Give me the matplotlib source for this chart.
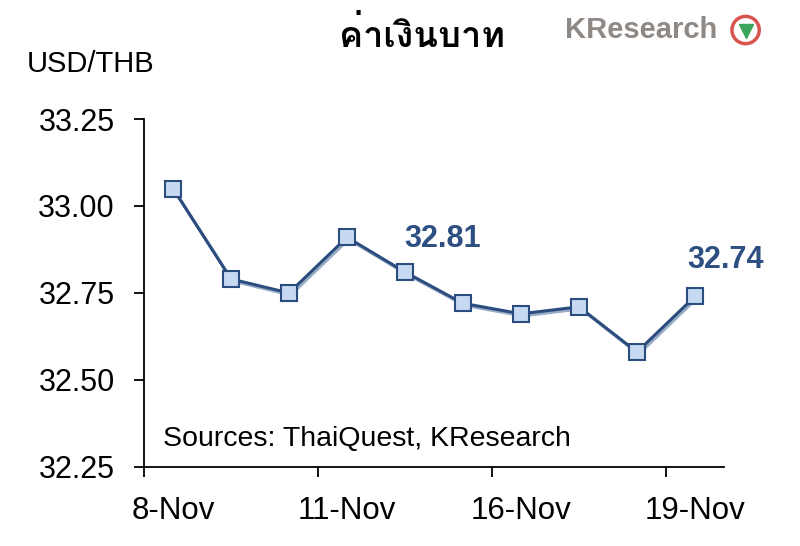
import matplotlib
matplotlib.use('Agg')
import matplotlib.pyplot as plt
import matplotlib.patheffects as pe
from matplotlib import font_manager
from matplotlib.ft2font import FT2Font
from matplotlib.patches import Circle

# --- data ---
dates = ['8-Nov', '9-Nov', '10-Nov', '11-Nov', '12-Nov',
         '15-Nov', '16-Nov', '17-Nov', '18-Nov', '19-Nov']
usd_thb = [33.05, 32.79, 32.75, 32.91, 32.81, 32.72, 32.69, 32.71, 32.58, 32.74]
label_idx = [0, 3, 6, 9]
callouts = [4, 9]
title = 'ค่าเงินบาท'
y_ticks = [32.25, 32.50, 32.75, 33.00, 33.25]


def find_thai_font():
    # look for any installed font that has Thai glyphs
    for f in font_manager.fontManager.ttflist:
        try:
            if 0x0E04 in FT2Font(f.fname).get_charmap():
                return f.name
        except Exception:
            pass
    return 'DejaVu Sans'


thai_font = find_thai_font()
plt.rcParams['font.family'] = ['Liberation Sans', 'DejaVu Sans']

navy = '#2B4C7E'
fig = plt.figure(figsize=(8, 5.46), dpi=100)
ax = fig.add_axes([0.18, 0.145, 0.725, 0.637])

x = list(range(len(dates)))
ax.plot(x, usd_thb, color=navy, lw=2.2, zorder=2,
        path_effects=[pe.SimpleLineShadow(offset=(1.2, -1.5), shadow_color='#8FA3C0', alpha=0.9),
                      pe.Normal()])
ax.plot(x, usd_thb, ls='none', marker='s', ms=11, mfc='#C6D9F0', mec=navy, mew=1.5, zorder=3)

offsets = {4: (27, 24), 9: (22, 26)}
for i in callouts:
    ax.annotate(f'{usd_thb[i]:.2f}', (x[i], usd_thb[i]), xytext=offsets[i],
                textcoords='offset points', ha='center', va='center',
                fontsize=22, fontweight='bold', color='#2D4F82')

ax.set_xlim(-0.5, len(dates) - 0.5)
ax.set_ylim(32.25, 33.25)
ax.set_yticks(y_ticks)
ax.set_yticklabels([f'{v:.2f}' for v in y_ticks])
ax.set_xticks([i - 0.5 for i in label_idx])
ax.set_xticklabels([])
ax.set_xticks(label_idx, minor=True)
ax.set_xticklabels([dates[i] for i in label_idx], minor=True)
ax.tick_params(axis='x', which='minor', length=0, labelsize=22.5, pad=21)
ax.tick_params(axis='x', which='major', length=7, width=1.3, direction='out')
ax.tick_params(axis='y', length=7, width=1.3, direction='out', labelsize=22, pad=14)

for s in ['top', 'right']:
    ax.spines[s].set_visible(False)
for s in ['left', 'bottom']:
    ax.spines[s].set_linewidth(1.3)

ax.text(0.033, 0.08, 'Sources: ThaiQuest, KResearch', transform=ax.transAxes,
        fontsize=20.5, va='center', ha='left')

fig.text(0.033, 0.883, 'USD/THB', fontsize=21, va='center', ha='left')
fig.text(0.528, 0.935, title, fontsize=26, fontweight='bold', ha='center', va='center',
         family=[thai_font, 'DejaVu Sans'])

# KResearch logo
fig.text(0.706, 0.945, 'KResearch', fontsize=21, fontweight='bold', color='#8F8985',
         ha='left', va='center')
lax = fig.add_axes([0.907, 0.915, 0.05, 0.06])
lax.set_aspect('equal')
lax.add_patch(Circle((0, 0), 1, fc='white', ec='#D9534F', lw=2.5))
lax.plot([0], [-0.1], marker='v', ms=10, color='#3BA55C')
lax.set_xlim(-1.2, 1.2)
lax.set_ylim(-1.2, 1.2)
lax.axis('off')

fig.savefig('out.png', dpi=100)
